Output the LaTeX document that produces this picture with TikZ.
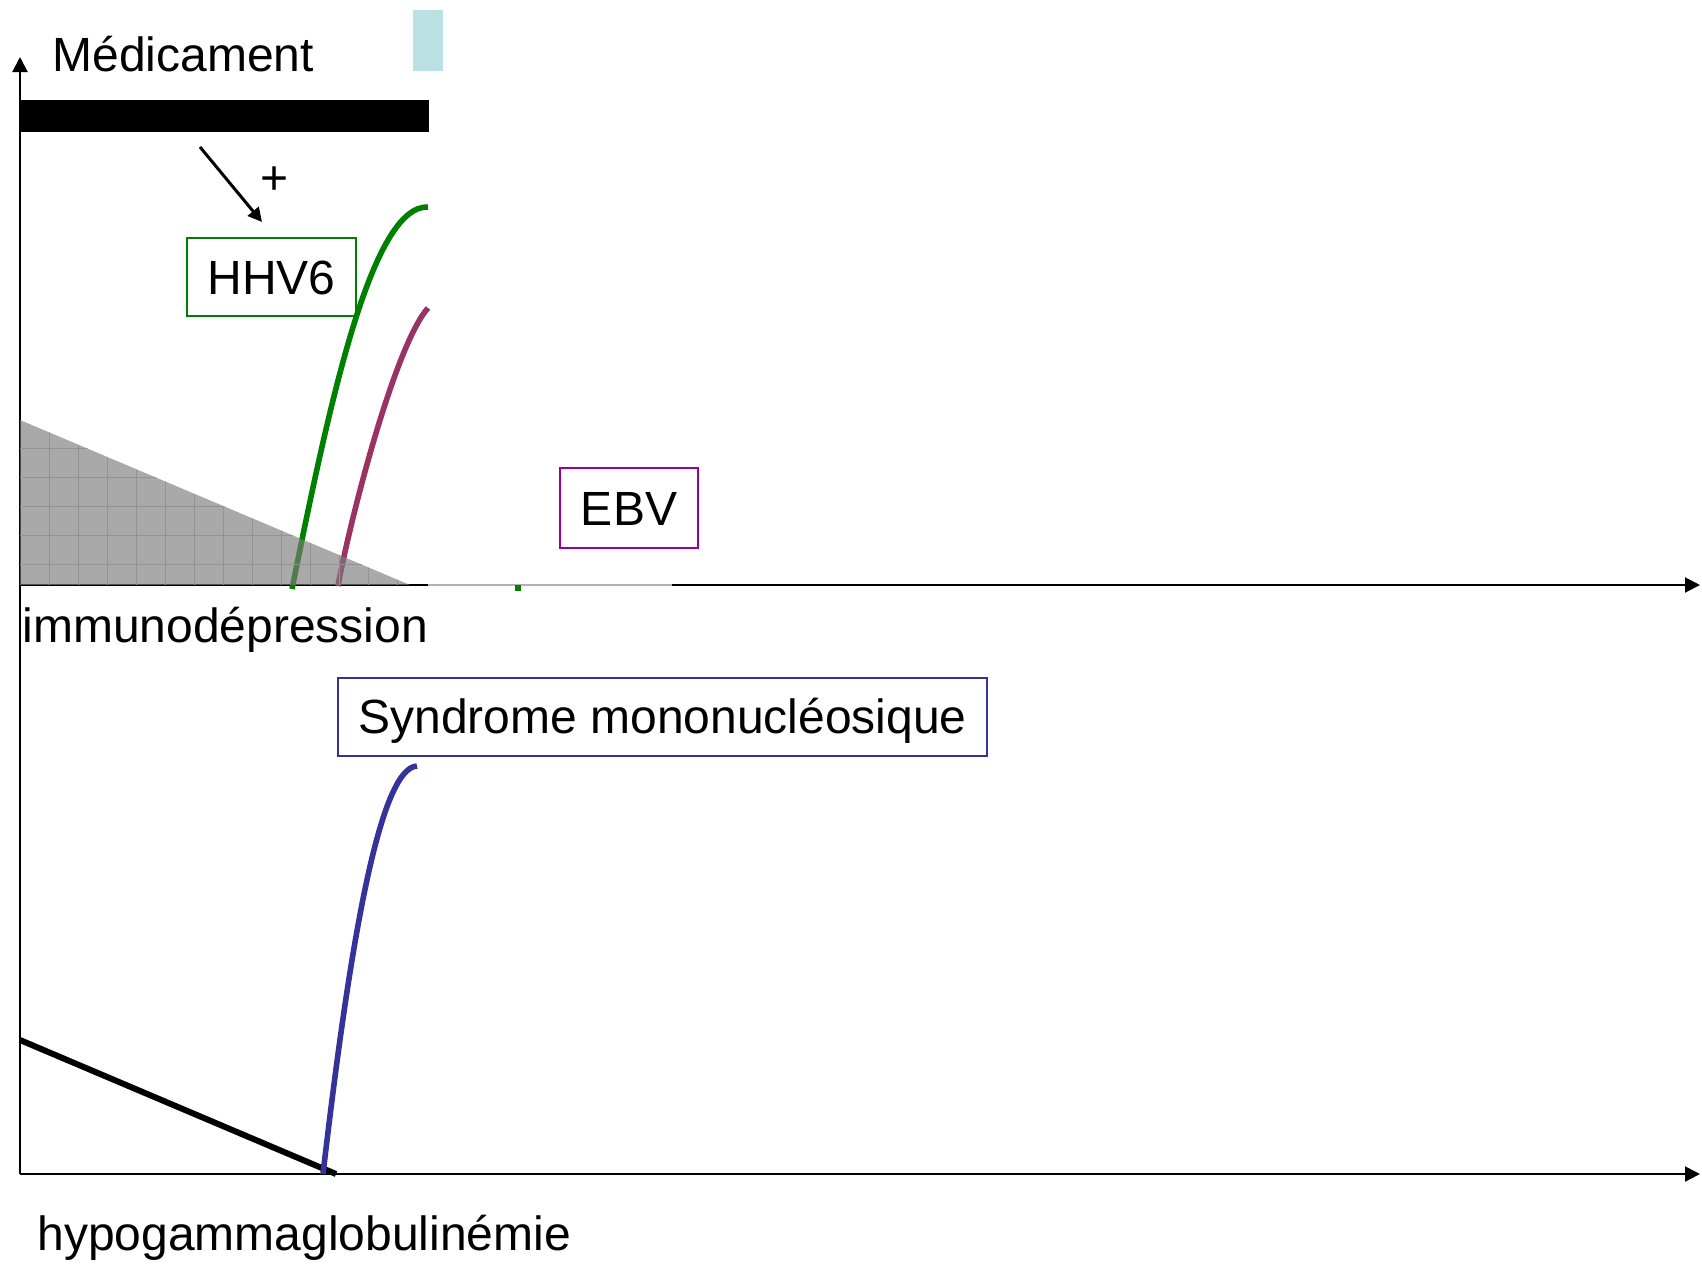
\documentclass[tikz,border=0pt]{standalone}
\usepackage{fontspec}
\setmainfont{Liberation Sans}
\usetikzlibrary{arrows.meta}

\definecolor{hhvgreen}{HTML}{008000}
\definecolor{ebvpurple}{HTML}{990099}
\definecolor{ebvcurve}{HTML}{993366}
\definecolor{mnoblue}{HTML}{333399}
\definecolor{pale}{HTML}{BBE0E3}
\definecolor{immgray}{HTML}{7B7B7B}
\definecolor{gridgray}{HTML}{939393}

\def\gridsep{29}

\begin{document}
\begin{tikzpicture}[x=0.5pt,y=-0.5pt,font=\fontsize{24}{28}\selectfont]
    \tikzstyle{axis}=[line width=1pt,-{Triangle[length=7.5pt,width=7.5pt]}]
    \tikzstyle{curve}=[line width=2.8pt]
    \tikzstyle{label box}=[draw,line width=1pt,inner sep=0pt,minimum height=39pt,text height=17.2pt,text depth=0pt]
    \tikzstyle{axis label}=[anchor=base west,inner sep=0pt]

    \useasboundingbox (0,0) rectangle (1702,1265);

    % Draw the axes
    \coordinate (top) at (20,57);
    \coordinate (O1) at (20,585);
    \coordinate (X1) at (1700,585);
    \coordinate (O2) at (20,1174);
    \coordinate (X2) at (1700,1174);
    \draw[axis] (O2) -- (top);
    \draw[axis] (O1) -- (X1);
    \draw[axis] (O2) -- (X2);
    \draw[gray!60,line width=1pt] (428,585) -- (672,585);

    % Drug intake
    \fill[pale] (413,10) rectangle (443,71);
    \fill (20,100) rectangle (429,132);
    \node[axis label] (med) at (52,71) {Médicament};

    % Drug acts on HHV6
    \coordinate (cause) at (200,147);
    \coordinate (effect) at (262,222);
    \draw[line width=1.5pt,-{Triangle[length=7pt,width=7pt]}] (cause) -- (effect);
    \node[inner sep=0pt] (plus) at (275,181) {+};

    % Viral curves
    \draw[curve,hhvgreen] (292,589) .. controls (330,400) and (372,205) .. (428,207);
    \draw[curve,ebvcurve] (338,586) .. controls (350,520) and (395,345) .. (428,308);
    \fill[hhvgreen] (515,585) rectangle (521,591);

    % Immunodepression (shaded triangle with grid)
    \begin{scope}
        \clip (20,420) -- (410,585) -- (20,585) -- cycle;
        \fill[immgray,fill opacity=0.65] (20,420) rectangle (410,585);
        \foreach \x in {1,...,13}
            \draw[gridgray,line width=0.4pt] (20+\x*\gridsep,420) -- (20+\x*\gridsep,585);
        \foreach \y in {0,...,5}
            \draw[gridgray,line width=0.4pt] (20,564-\y*\gridsep) -- (410,564-\y*\gridsep);
    \end{scope}
    \node[axis label] (imm) at (22,642) {immunodépression};

    % Labels of the viruses
    \node[label box,draw=hhvgreen,minimum width=84.5pt] (hhv6) at (271.5,277) {HHV6};
    \node[label box,draw=ebvpurple,minimum width=69pt,minimum height=40pt] (ebv) at (629,508) {EBV};
    \node[label box,draw=mnoblue,minimum width=324.5pt] (mno) at (662.5,716.5) {Syndrome mononucléosique};

    % Hypogammaglobulinemia and syndrome
    \draw[line width=3pt] (20,1040) -- (336,1174);
    \draw[curve,mnoblue] (323,1174) .. controls (348,960) and (378,768) .. (417,766);
    \node[axis label] (hypo) at (37,1250) {hypogammaglobulinémie};
\end{tikzpicture}
\end{document}
